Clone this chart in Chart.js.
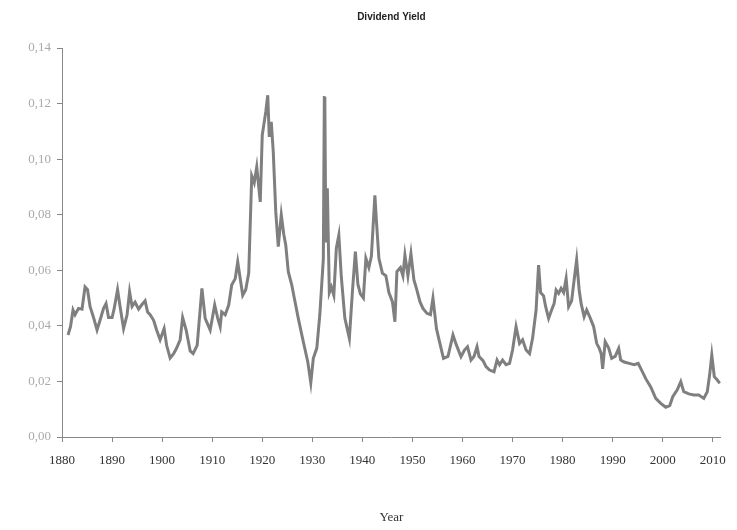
<!DOCTYPE html>
<html>
<head>
<meta charset="utf-8">
<script src="https://cdn.jsdelivr.net/npm/chart.js@4.4.1/dist/chart.umd.min.js"></script>
<style>
    html, body { margin: 0; padding: 0; background: #fff; }
    #wrap { width: 737px; height: 530px; }
</style>
</head>
<body>
<div id="wrap"><canvas id="yieldChart" width="737" height="530"></canvas></div>
<script>
// data (year, dividend yield)
var years = [
    1881.2, 1881.7, 1882.2, 1882.6, 1883.3, 1884.0, 1884.6, 1885.1, 1885.6, 1886.3,
    1887.0, 1887.6, 1888.3, 1888.8, 1889.3, 1890.0, 1890.4, 1891.1, 1891.6, 1892.3,
    1893.0, 1893.5, 1894.0, 1894.6, 1895.3, 1895.9, 1896.6, 1897.1, 1897.6, 1898.3,
    1898.9, 1899.6, 1900.4, 1900.9, 1901.6, 1902.3, 1902.9, 1903.6, 1904.1, 1904.8,
    1905.6, 1906.2, 1907.0, 1907.95, 1908.6, 1909.6, 1910.5, 1911.1, 1911.6, 1911.9,
    1912.6, 1913.3, 1913.9, 1914.6, 1915.1, 1915.6, 1916.1, 1916.7, 1917.3, 1917.9,
    1918.4, 1918.9, 1919.6, 1920.0, 1920.7, 1921.1, 1921.4, 1921.8, 1922.2, 1922.7,
    1923.2, 1923.8, 1924.3, 1924.7, 1925.2, 1925.9, 1926.4, 1927.2, 1928.2, 1929.1,
    1929.7, 1930.2, 1930.9, 1931.5, 1932.2, 1932.4, 1932.5, 1932.7, 1933.0, 1933.4,
    1933.8, 1934.3, 1934.8, 1935.3, 1935.8, 1936.5, 1937.4, 1938.0, 1938.6, 1939.1,
    1939.6, 1940.2, 1940.7, 1941.3, 1941.8, 1942.5, 1942.8, 1943.3, 1944.0, 1944.7,
    1945.3, 1946.0, 1946.5, 1946.9, 1947.6, 1948.1, 1948.5, 1949.1, 1949.7, 1950.3,
    1950.8, 1951.5, 1952.1, 1952.9, 1953.6, 1954.1, 1954.8, 1955.4, 1956.2, 1957.1,
    1958.1, 1958.7, 1959.7, 1960.4, 1961.0, 1961.7, 1962.3, 1962.9, 1963.3, 1964.1,
    1964.7, 1965.4, 1966.3, 1966.9, 1967.4, 1968.0, 1968.7, 1969.4, 1970.0, 1970.7,
    1971.4, 1972.0, 1972.7, 1973.4, 1974.0, 1974.7, 1975.2, 1975.6, 1976.2, 1976.6,
    1977.2, 1977.8, 1978.3, 1978.7, 1979.2, 1979.7, 1980.2, 1980.7, 1981.2, 1981.8,
    1982.3, 1982.8, 1983.3, 1983.7, 1984.3, 1984.8, 1985.4, 1986.2, 1986.8, 1987.3,
    1987.7, 1988.0, 1988.5, 1989.2, 1989.8, 1990.5, 1991.2, 1991.6, 1992.3, 1993.3,
    1994.3, 1995.1, 1995.8, 1996.6, 1997.6, 1998.6, 1999.6, 2000.6, 2001.4, 2002.0,
    2002.9, 2003.6, 2004.2, 2005.2, 2006.2, 2007.2, 2008.2, 2008.9, 2009.4, 2009.8,
    2010.3, 2010.9, 2011.4
];

var yields = [
    0.0367, 0.0397, 0.0457, 0.0440, 0.0463, 0.0460, 0.0540, 0.0530, 0.0470, 0.0430,
    0.0385, 0.0420, 0.0463, 0.0480, 0.0430, 0.0430, 0.0460, 0.0530, 0.0470, 0.0390,
    0.0440, 0.0523, 0.0470, 0.0485, 0.0460, 0.0475, 0.0490, 0.0450, 0.0440, 0.0420,
    0.0385, 0.0350, 0.0390, 0.0330, 0.0284, 0.0300, 0.0320, 0.0350, 0.0430, 0.0385,
    0.0310, 0.0300, 0.0330, 0.0535, 0.0427, 0.0385, 0.0475, 0.0428, 0.0397, 0.0450,
    0.0440, 0.0475, 0.0547, 0.0570, 0.0630, 0.0570, 0.0510, 0.0530, 0.0590, 0.0940,
    0.0915, 0.0972, 0.0846, 0.1086, 0.1170, 0.1230, 0.1080, 0.1134, 0.1026, 0.0810,
    0.0685, 0.0800, 0.0730, 0.0690, 0.0595, 0.0547, 0.0500, 0.0427, 0.0343, 0.0270,
    0.0195, 0.0283, 0.0320, 0.0440, 0.0640, 0.1222, 0.1225, 0.0700, 0.0895, 0.0520,
    0.0540, 0.0510, 0.0680, 0.0727, 0.0575, 0.0428, 0.0355, 0.0520, 0.0667, 0.0550,
    0.0515, 0.0500, 0.0643, 0.0610, 0.0650, 0.0870, 0.0780, 0.0643, 0.0590, 0.0580,
    0.0520, 0.0487, 0.0415, 0.0595, 0.0610, 0.0580, 0.0655, 0.0580, 0.0660, 0.0565,
    0.0535, 0.0487, 0.0463, 0.0445, 0.0440, 0.0500, 0.0390, 0.0343, 0.0283, 0.0290,
    0.0367, 0.0335, 0.0289, 0.0313, 0.0325, 0.0277, 0.0290, 0.0325, 0.0290, 0.0275,
    0.0253, 0.0241, 0.0235, 0.0277, 0.0260, 0.0277, 0.0260, 0.0265, 0.0313, 0.0397,
    0.0337, 0.0350, 0.0313, 0.0300, 0.0355, 0.0457, 0.0619, 0.0520, 0.0508, 0.0470,
    0.0427, 0.0457, 0.0480, 0.0529, 0.0517, 0.0535, 0.0520, 0.0570, 0.0469, 0.0490,
    0.0565, 0.0637, 0.0530, 0.0480, 0.0433, 0.0457, 0.0433, 0.0397, 0.0337, 0.0320,
    0.0300, 0.0245, 0.0343, 0.0320, 0.0283, 0.0290, 0.0319, 0.0277, 0.0270, 0.0265,
    0.0260, 0.0265, 0.0240, 0.0210, 0.0180, 0.0139, 0.0121, 0.0107, 0.0113, 0.0145,
    0.0170, 0.0199, 0.0163, 0.0155, 0.0151, 0.0151, 0.0139, 0.0163, 0.0229, 0.0295,
    0.0217, 0.0205, 0.0193
];

var xTicks = [1880, 1890, 1900, 1910, 1920, 1930, 1940, 1950, 1960, 1970, 1980, 1990, 2000, 2010];
var yTicks = [0, 0.02, 0.04, 0.06, 0.08, 0.10, 0.12, 0.14];

window.addEventListener("load", function () {
    var points = years.map(function (yr, i) {
        return { x: yr, y: yields[i] };
    });

    var ctx = document.getElementById("yieldChart").getContext("2d");

    var myChart = new Chart(ctx, {
        type: "line",
        data: {
            datasets: [{
                label: "Dividend Yield",
                data: points,
                borderColor: "#7f7f7f",
                backgroundColor: "#7f7f7f",
                borderWidth: 3,
                pointRadius: 0,
                tension: 0,
                fill: false
            }]
        },
        options: {
            responsive: false,
            animation: false,
            layout: { padding: { left: 0, right: 12, top: 0, bottom: 0 } },
            plugins: {
                legend: { display: false },
                tooltip: { enabled: false },
                title: {
                    display: true,
                    text: "Dividend Yield",
                    fullSize: false,
                    color: "#222",
                    font: { family: "'Liberation Sans', Arial, sans-serif", size: 10, weight: "bold" },
                    padding: { top: 11, bottom: 25 }
                }
            },
            scales: {
                x: {
                    type: "linear",
                    min: 1880,
                    max: 2011.6,
                    afterBuildTicks: function (scale) {
                        scale.ticks = xTicks.map(function (v) { return { value: v }; });
                    },
                    afterFit: function (scale) { scale.height = 93; },
                    ticks: {
                        autoSkip: false,
                        maxRotation: 0,
                        padding: 11,
                        color: "#333",
                        font: { family: "'Liberation Serif', 'Times New Roman', serif", size: 13 },
                        callback: function (v) { return String(v); }
                    },
                    grid: { drawOnChartArea: false, drawTicks: true, tickLength: 5, color: "#888" },
                    border: { display: true, color: "#888", width: 1 },
                    title: {
                        display: true,
                        text: "Year",
                        color: "#333",
                        font: { family: "'Liberation Serif', 'Times New Roman', serif", size: 13 },
                        padding: { top: 0, bottom: 5 }
                    }
                },
                y: {
                    min: 0,
                    max: 0.14,
                    afterBuildTicks: function (scale) {
                        scale.ticks = yTicks.map(function (v) { return { value: v }; });
                    },
                    afterFit: function (scale) { scale.width = 62; },
                    ticks: {
                        padding: 6,
                        color: "#aaa",
                        font: { family: "'Liberation Serif', 'Times New Roman', serif", size: 13 },
                        callback: function (v) { return v.toFixed(2).replace(".", ","); }
                    },
                    grid: { drawOnChartArea: false, drawTicks: true, tickLength: 5, color: "#888" },
                    border: { display: true, color: "#888", width: 1 }
                }
            }
        }
    });
});
</script>
</body>
</html>
